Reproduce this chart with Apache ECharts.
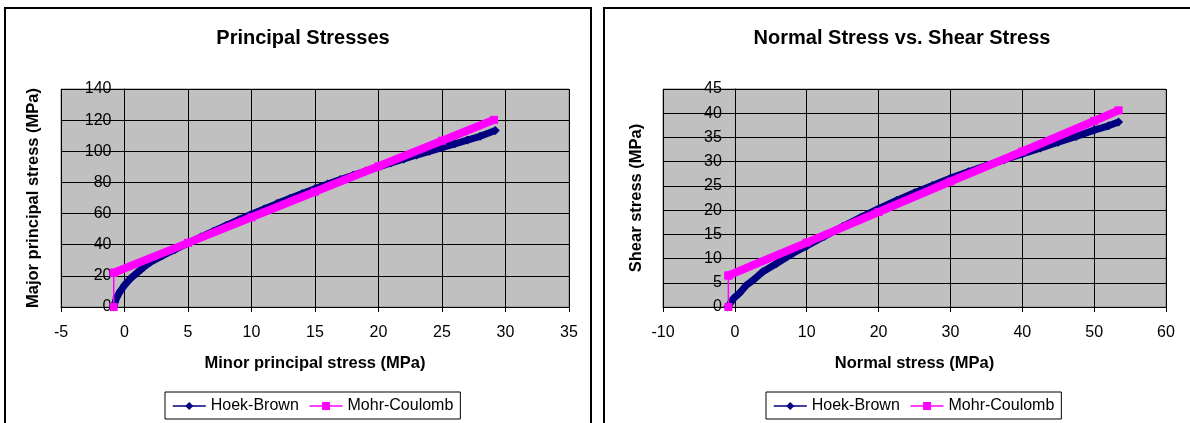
<!DOCTYPE html>
<html>
<head>
<meta charset="utf-8">
<script src="https://cdn.jsdelivr.net/npm/echarts@6/dist/echarts.min.js"></script>
<style>
html,body{margin:0;padding:0;background:#fff;overflow:hidden}
#c{width:1190px;height:423px}
</style>
</head>
<body>
<div id="c"></div>
<script>
// ---- Data ----
const seriesNames = ['Hoek-Brown', 'Mohr-Coulomb'];
const chartTitles = ['Principal Stresses', 'Normal Stress vs. Shear Stress'];
const xAxisNames = ['Minor principal stress (MPa)', 'Normal stress (MPa)'];
const yAxisNames = ['Major principal stress (MPa)', 'Shear stress (MPa)'];

// Left chart: Hoek-Brown envelope (minor vs major principal stress)
const hbMinor = [-0.85, -0.6, -0.3, 0, 0.5, 1, 1.5, 2, 3, 4, 5, 6, 7, 8, 9, 10, 11, 12, 13, 14, 15, 16, 17, 18, 19, 20, 21, 22, 23, 24, 25, 26, 27, 28, 29.2];
const hbMajor = [0, 6.5, 10.5, 14, 18.5, 22, 25.5, 28.6, 33, 37, 41, 44.9, 48.7, 52.4, 56, 59.6, 63, 66.4, 69.7, 72.9, 76, 79, 81.9, 84.6, 87.3, 90, 92.6, 95.1, 97.6, 100, 102.4, 104.8, 107.2, 109.6, 113.3];
// Left chart: Mohr-Coulomb envelope
const mcMinorCut = [-0.85, -0.85];
const mcMajorCut = [0, 22];
const mcMinor = [-0.85, 5, 10, 15, 20, 25, 29.1];
const mcMajor = [22, 41.2, 57.6, 74, 90.4, 106.8, 120.2];

// Right chart: Hoek-Brown (normal vs shear stress)
const hbNormal = [-1, -0.1, 0.6, 1.6, 2.6, 3.9, 5.8, 8.1, 10, 12.5, 15, 17.5, 20, 22.5, 25, 27.5, 30, 32.5, 35, 37.5, 40, 42.5, 45, 47.5, 50, 52, 53.4];
const hbShear = [0, 1.9, 2.8, 4.5, 5.6, 7.3, 9.0, 11.1, 12.6, 14.6, 16.6, 18.5, 20.3, 22.0, 23.6, 25.1, 26.6, 27.9, 29.2, 30.4, 31.6, 32.8, 34.0, 35.2, 36.5, 37.4, 38.2];
// Right chart: Mohr-Coulomb
const mcNormalCut = [-0.9, -0.9];
const mcShearCut = [0, 6.5];
const mcNormal = [-0.9, 10, 20, 30, 40, 50, 53.4];
const mcShear = [6.5, 13.3, 19.6, 25.9, 32.1, 38.4, 40.6];

// Axis ranges / tick steps
const xMin = [-5, -10], xMax = [35, 60], xStep = [5, 10];
const yMin = [0, 0], yMax = [140, 45], yStep = [20, 5];

// ---- Styling ----
const FONT = '"Liberation Sans", Arial, sans-serif';
const NAVY = '#000080', MAGENTA = '#FF00FF';
const pairs = (xs, ys) => xs.map((x, i) => [x, ys[i]]);

const grids = [
  {left: 61, top: 89, width: 508, height: 218},
  {left: 663, top: 89, width: 503, height: 218}
];
// the value axis crosses at x = 0: shift it from the grid's left edge to that spot
const yAxisShift = grids.map((g, i) => -g.width * (0 - xMin[i]) / (xMax[i] - xMin[i]));
const yNameGap = [83, 90];
const titleCenters = [298, 897];
const legendLefts = [165, 766];

const option = {
  animation: false,
  backgroundColor: '#fff',
  title: chartTitles.map((t, i) => ({
    text: t, left: titleCenters[i], top: 23, textAlign: 'center',
    textStyle: {fontFamily: FONT, fontSize: 20, fontWeight: 'bold', color: '#000'}
  })),
  grid: grids.map(g => Object.assign({
    show: true, backgroundColor: '#C0C0C0', borderColor: '#808080', borderWidth: 1,
    containLabel: false, outerBoundsMode: 'none'
  }, g)),
  xAxis: [0, 1].map(i => ({
    type: 'value', gridIndex: i, min: xMin[i], max: xMax[i], interval: xStep[i],
    name: xAxisNames[i], nameLocation: 'middle', nameGap: 48,
    nameTextStyle: {fontFamily: FONT, fontSize: 16.5, fontWeight: 'bold', color: '#000'},
    axisLine: {show: true, onZero: false, lineStyle: {color: '#000', width: 1}},
    axisTick: {show: true, length: 5, lineStyle: {color: '#000', width: 1}},
    axisLabel: {color: '#000', fontFamily: FONT, fontSize: 16, margin: 18},
    splitLine: {show: true, lineStyle: {color: '#000', width: 1}}
  })),
  yAxis: [0, 1].map(i => ({
    type: 'value', gridIndex: i, min: yMin[i], max: yMax[i], interval: yStep[i],
    position: 'left', offset: yAxisShift[i],
    name: yAxisNames[i], nameLocation: 'middle', nameGap: yNameGap[i], nameRotate: 90,
    nameTextStyle: {fontFamily: FONT, fontSize: 16.5, fontWeight: 'bold', color: '#000'},
    axisLine: {show: true, onZero: false, lineStyle: {color: '#000', width: 1}},
    axisTick: {show: true, length: 5, lineStyle: {color: '#000', width: 1}},
    axisLabel: {color: '#000', fontFamily: FONT, fontSize: 16, margin: 13},
    splitLine: {show: true, lineStyle: {color: '#000', width: 1}}
  })),
  legend: legendLefts.map(l => ({
    data: seriesNames, left: l, top: 392, orient: 'horizontal',
    itemWidth: 33, itemHeight: 10, itemGap: 10, padding: [6, 7, 5, 7],
    borderColor: '#000', borderWidth: 1, backgroundColor: '#fff', borderRadius: 0,
    selectedMode: false,
    lineStyle: {width: 1.5},
    textStyle: {fontFamily: FONT, fontSize: 16, color: '#000'}
  })),
  graphic: [
    {type: 'rect', silent: true, z: 100, shape: {x: 5, y: 8, width: 586, height: 440},
     style: {fill: 'none', stroke: '#000', lineWidth: 2}},
    {type: 'rect', silent: true, z: 100, shape: {x: 604, y: 8, width: 590, height: 440},
     style: {fill: 'none', stroke: '#000', lineWidth: 2}}
  ],
  series: []
};

function hbSeries(idx, data) {
  return {type: 'line', name: seriesNames[0], xAxisIndex: idx, yAxisIndex: idx, data,
    symbol: 'diamond', symbolSize: 9, clip: false, z: 2, emphasis: {disabled: true},
    lineStyle: {color: NAVY, width: 7}, itemStyle: {color: NAVY}};
}
function mcSeries(idx, data, width) {
  return {type: 'line', name: seriesNames[1], xAxisIndex: idx, yAxisIndex: idx, data,
    symbol: 'rect', symbolSize: 8, clip: false, z: 3, emphasis: {disabled: true},
    lineStyle: {color: MAGENTA, width}, itemStyle: {color: MAGENTA}};
}

option.series.push(
  hbSeries(0, pairs(hbMinor, hbMajor)),
  mcSeries(0, pairs(mcMinorCut, mcMajorCut), 1.5),
  mcSeries(0, pairs(mcMinor, mcMajor), 8),
  hbSeries(1, pairs(hbNormal, hbShear)),
  mcSeries(1, pairs(mcNormalCut, mcShearCut), 1.5),
  mcSeries(1, pairs(mcNormal, mcShear), 8)
);

const chart = echarts.init(document.getElementById('c'), null, {renderer: 'canvas'});
chart.setOption(option);
</script>
</body>
</html>
